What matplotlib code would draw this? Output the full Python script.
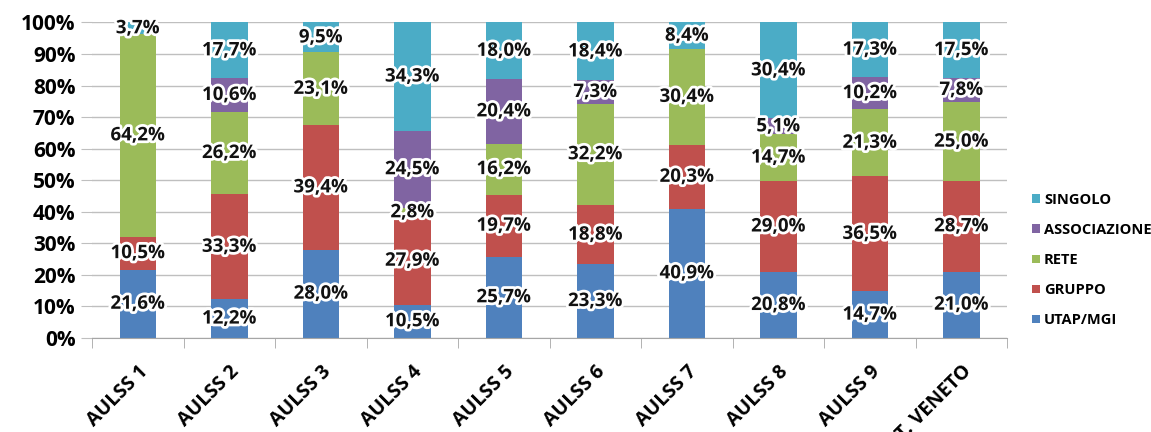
import numpy as np
import matplotlib
matplotlib.use("Agg")
import matplotlib.pyplot as plt
import matplotlib.patheffects as pe

# data (percentages per AULSS)
categories = ["AULSS 1", "AULSS 2", "AULSS 3", "AULSS 4", "AULSS 5",
              "AULSS 6", "AULSS 7", "AULSS 8", "AULSS 9", "TOT. VENETO"]
utap = [21.6, 12.2, 28.0, 10.5, 25.7, 23.3, 40.9, 20.8, 14.7, 21.0]
gruppo = [10.5, 33.3, 39.4, 27.9, 19.7, 18.8, 20.3, 29.0, 36.5, 28.7]
rete = [64.2, 26.2, 23.1, 2.8, 16.2, 32.2, 30.4, 14.7, 21.3, 25.0]
associazione = [0.0, 10.6, 0.0, 24.5, 20.4, 7.3, 0.0, 5.1, 10.2, 7.8]
singolo = [3.7, 17.7, 9.5, 34.3, 18.0, 18.4, 8.4, 30.4, 17.3, 17.5]

series = [("UTAP/MGI", utap, "#4F81BD"),
          ("GRUPPO", gruppo, "#C0504D"),
          ("RETE", rete, "#9BBB59"),
          ("ASSOCIAZIONE", associazione, "#8064A2"),
          ("SINGOLO", singolo, "#4BACC6")]

plt.rcParams['font.family'] = ['Open Sans', 'DejaVu Sans']

fig = plt.figure(figsize=(11.51, 4.32), dpi=100)
ax = fig.add_axes([0.08, 0.218, 0.795, 0.73])

x = np.arange(len(categories))
bottom = np.zeros(len(categories))
handles = []
for name, vals, col in series:
    vals = np.array(vals)
    b = ax.bar(x, vals, 0.4, bottom=bottom, color=col, label=name, zorder=2)
    handles.append(b)
    for xi, v, bt in zip(x, vals, bottom):
        if v > 0:
            t = ax.text(xi, bt + v / 2, ("%.1f%%" % v).replace(".", ","),
                        ha="center", va="center", fontsize=13.5,
                        fontweight="bold", color="#111111", zorder=4)
            t.set_path_effects([pe.withStroke(linewidth=4, foreground="white")])
    bottom = bottom + vals

ax.set_xlim(-0.5, len(categories) - 0.5)
ax.set_ylim(0, 100)
ax.set_yticks(np.arange(0, 101, 10))
ax.set_yticklabels(["%d%%" % v for v in range(0, 101, 10)],
                   fontsize=15, fontweight="bold")
ax.yaxis.grid(True, color="#BFBFBF", linewidth=1, zorder=0)
ax.set_axisbelow(True)

ax.set_xticks(x)
ax.set_xticklabels(categories, rotation=45, ha="right",
                   rotation_mode="anchor", fontsize=14, fontweight="bold")
ax.set_xticks(np.arange(-0.5, len(categories)), minor=True)
ax.tick_params(axis="x", which="major", length=0, pad=17)
ax.tick_params(axis="x", which="minor", length=7, color="#A6A6A6")
ax.tick_params(axis="y", length=8, color="#BFBFBF", pad=4)

for s in ["top", "right", "left"]:
    ax.spines[s].set_visible(False)
ax.spines["bottom"].set_color("#A6A6A6")

leg = fig.legend(handles[::-1], [s[0] for s in series][::-1],
                 loc="center left", bbox_to_anchor=(0.897, 0.398),
                 frameon=False, handlelength=0.55, handleheight=0.55,
                 handletextpad=0.25, labelspacing=1.1,
                 borderpad=0, borderaxespad=0,
                 prop={"size": 10.5, "weight": "bold"})

fig.savefig("out.png", dpi=100)
